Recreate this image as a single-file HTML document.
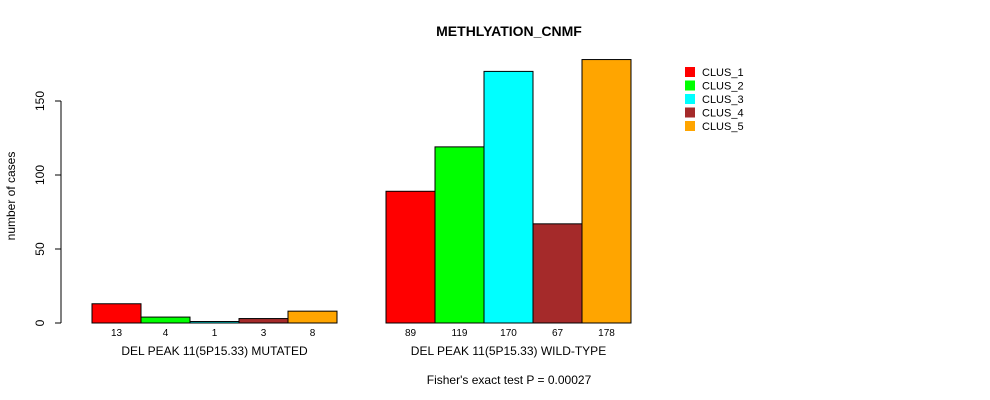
<!DOCTYPE html>
<html><head><meta charset="utf-8"><style>
body{margin:0;background:#fff;}
svg{display:block;font-family:"Liberation Sans",Arial,sans-serif;}
</style></head><body>
<svg id="chart" width="990" height="400" xmlns="http://www.w3.org/2000/svg">
<text x="509" y="36" text-anchor="middle" font-size="14" font-weight="bold">METHLYATION_CNMF</text>
<text x="15" y="196" text-anchor="middle" font-size="12" transform="rotate(-90 15 196)">number of cases</text>
<text x="509" y="384" text-anchor="middle" font-size="12">Fisher's exact test P = 0.00027</text>
<g id="yaxis"></g>
<g id="bars"></g>
<g id="legend"></g>
</svg>
<script>
const groups = ["DEL PEAK 11(5P15.33) MUTATED","DEL PEAK 11(5P15.33) WILD-TYPE"];
const clusters = ["CLUS_1","CLUS_2","CLUS_3","CLUS_4","CLUS_5"];
const colors = ["#ff0000","#00ff00","#00ffff","#a52a2a","#ffa500"];
const mutatedValues = [13,4,1,3,8];
const wildtypeValues = [89,119,170,67,178];
const yTicks = [0,50,100,150];

const NS="http://www.w3.org/2000/svg";
function mk(tag,attrs,parent){const e=document.createElementNS(NS,tag);for(const k in attrs)e.setAttribute(k,attrs[k]);parent.appendChild(e);return e;}
const y0=323, pxPer=1.48;
function yScale(v){return y0-v*pxPer;}
const barW=49;
const groupStart=[92,386];
function xScale(g,i){return groupStart[g]+i*barW;}

const ya=document.getElementById('yaxis');
mk('line',{x1:61,x2:61,y1:yScale(0),y2:yScale(150),stroke:'#000'},ya);
yTicks.forEach(t=>{
  const l=mk('line',{x1:55,x2:61,y1:yScale(t),y2:yScale(t),stroke:'#000'},ya);
  
  
  const tx=mk('text',{x:44,y:yScale(t),'text-anchor':'middle','font-size':12,transform:`rotate(-90 44 ${yScale(t)})`},ya);
  tx.textContent=t;
  
  
});

const bg=document.getElementById('bars');
[mutatedValues,wildtypeValues].forEach((vals,g)=>{
  vals.forEach((v,i)=>{
    const x=xScale(g,i);
    const r=mk('rect',{x:x,y:yScale(v),width:barW,height:v*pxPer,fill:colors[i],stroke:'#000','stroke-width':1},bg);
    
    
    const t=mk('text',{x:x+barW/2,y:336,'text-anchor':'middle','font-size':10},bg);
    t.textContent=v;
    
    
  });
  const gl=mk('text',{x:groupStart[g]+barW*2.5,y:355,'text-anchor':'middle','font-size':12},bg);
  gl.textContent=groups[g];
  
  
});

const lg=document.getElementById('legend');
clusters.forEach((c,i)=>{
  const y=67+i*13.5;
  const r=mk('rect',{x:685,y:y,width:10,height:10,fill:colors[i]},lg);
  
  
  const t=mk('text',{x:702,y:y+9,'font-size':11},lg);
  t.textContent=c;
  
  
});
</script>
</body></html>
